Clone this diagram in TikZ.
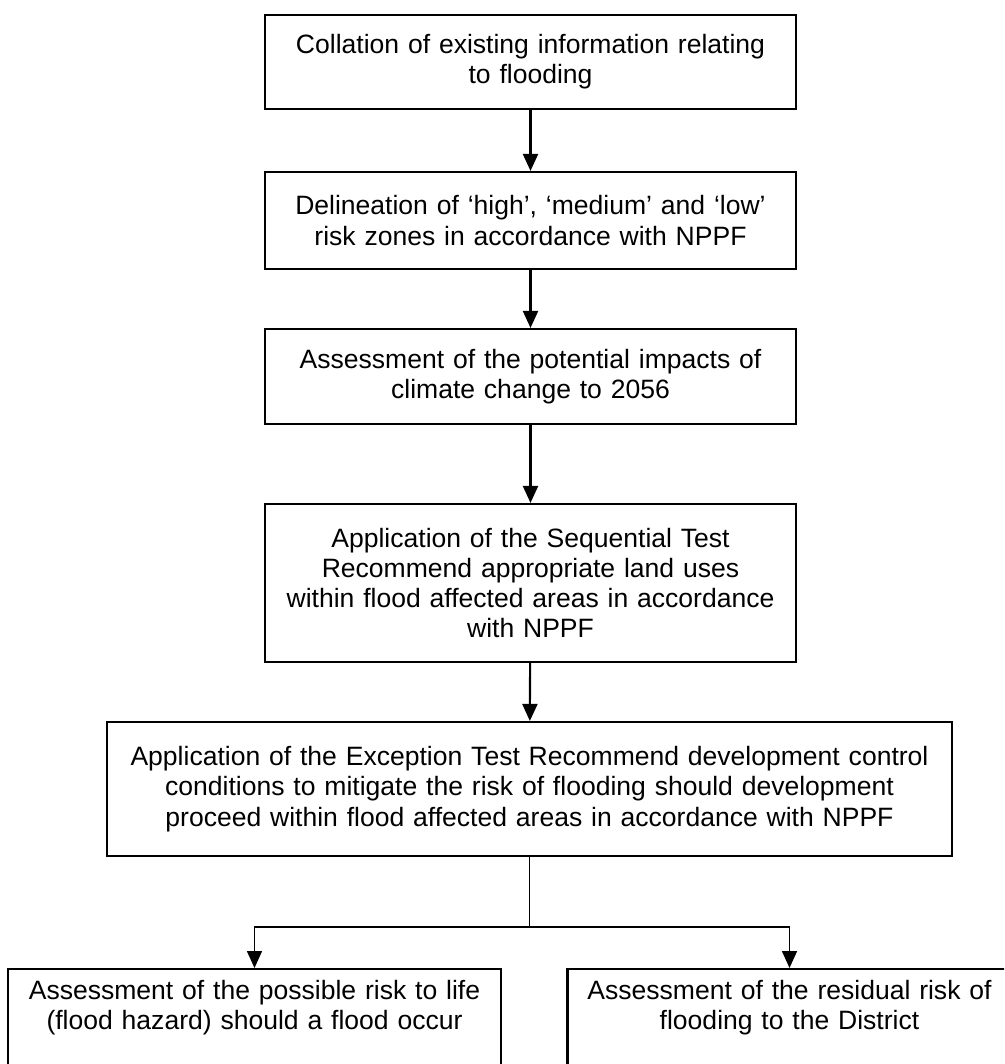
\documentclass[tikz,border=0pt]{standalone}
\usepackage{fontspec}
\setmainfont{Liberation Sans}
\usetikzlibrary{arrows.meta}

\begin{document}
\begin{tikzpicture}[line width=1.2pt,
    box/.style={draw,inner xsep=0pt,inner ysep=0.2cm,align=center,
        font=\fontsize{15.1pt}{17.2pt}\selectfont},
    >={Triangle[length=0.34cm,width=0.3cm]}]
    \useasboundingbox (0,0) rectangle (20.08,-21.28);
    \clip (0,0) rectangle (20.08,-21.28);

    \node[box,text width=10.62cm,minimum height=1.88cm] (collate) at (10.61,-1.24)
        {Collation of existing information relating\\to flooding};
    \node[box,text width=10.62cm,minimum height=1.94cm] (zones) at (10.61,-4.41)
        {Delineation of ‘high’, ‘medium’ and ‘low’\\risk zones in accordance with NPPF};
    \node[box,text width=10.62cm,minimum height=1.90cm] (climate) at (10.61,-7.53)
        {Assessment of the potential impacts of\\climate change to 2056};
    \node[box,text width=10.62cm,minimum height=3.16cm] (seqtest) at (10.61,-11.66)
        {Application of the Sequential Test\\Recommend appropriate land uses\\within flood affected areas in accordance\\with NPPF};
    \node[box,text width=16.9cm,minimum height=2.68cm] (exctest) at (10.59,-15.78)
        {Application of the Exception Test Recommend development control\\conditions to mitigate the risk of flooding should development\\proceed within flood affected areas in accordance with NPPF};
    \node[box,text width=9.86cm,text height=0.4cm,text depth=3cm,anchor=north] (life) at (5.09,-19.36)
        {Assessment of the possible risk to life\\(flood hazard) should a flood occur};
    \node[box,text width=8.88cm,text height=0.4cm,text depth=3cm,anchor=north] (residual) at (15.79,-19.36)
        {Assessment of the residual risk of\\flooding to the District};
    \coordinate (split) at (10.59,-18.54);

    \draw[->] (collate) -- (zones);
    \draw[->] (zones) -- (climate);
    \draw[->] (climate) -- (seqtest);
    \draw[->] (seqtest) -- (exctest);
    \draw[line width=0.9pt] (exctest) -- (split);
    \draw[->,line width=0.9pt] (split) -| (life);
    \draw[->,line width=0.9pt] (split) -| (residual);
\end{tikzpicture}
\end{document}
